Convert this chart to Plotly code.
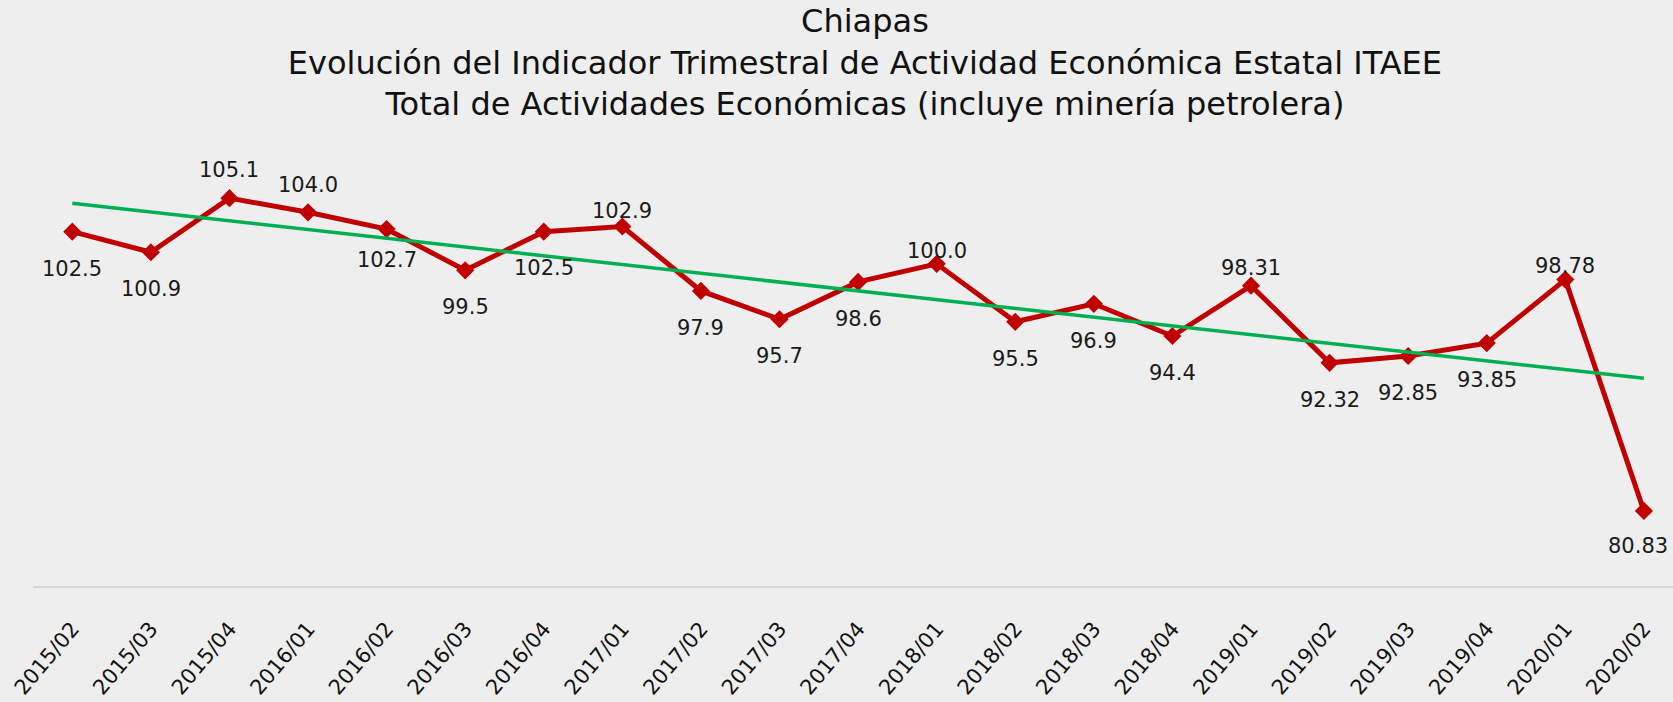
import numpy as np
import plotly.graph_objects as go

# Quarters and ITAEE values (Chiapas)
quarters = ["2015/02", "2015/03", "2015/04", "2016/01", "2016/02", "2016/03", "2016/04",
            "2017/01", "2017/02", "2017/03", "2017/04", "2018/01", "2018/02", "2018/03",
            "2018/04", "2019/01", "2019/02", "2019/03", "2019/04", "2020/01", "2020/02"]
itaee = [102.5, 100.9, 105.1, 104.0, 102.7, 99.5, 102.5, 102.9, 97.9, 95.7, 98.6,
         100.0, 95.5, 96.9, 94.4, 98.31, 92.32, 92.85, 93.85, 98.78, 80.83]
label_text = ["102.5", "100.9", "105.1", "104.0", "102.7", "99.5", "102.5", "102.9",
              "97.9", "95.7", "98.6", "100.0", "95.5", "96.9", "94.4", "98.31",
              "92.32", "92.85", "93.85", "98.78", "80.83"]

# vertical offset of each data label (px, positive = above the point)
label_shift = [-37, -37, 28, 27, -31, -37, -36, 15, -37, -37, -37,
               13, -37, -37, -37, 18, -37, -37, -37, 14, -35]

# linear trendline (as in the original spreadsheet chart)
idx = np.arange(len(itaee))
slope, intercept = np.polyfit(idx, itaee, 1)
trend = slope * idx + intercept

FONT = "DejaVu Sans"
BG = "#eeeeee"

fig = go.Figure()
fig.add_trace(go.Scatter(
    x=quarters, y=itaee, mode="lines+markers",
    line=dict(color="#c00000", width=5),
    marker=dict(symbol="diamond", size=14, color="#c00000"),
    showlegend=False, hoverinfo="x+y",
))
fig.add_trace(go.Scatter(
    x=quarters, y=trend, mode="lines",
    line=dict(color="#00b050", width=3.5),
    showlegend=False, hoverinfo="skip",
))

last = len(quarters) - 1
for i, (q, v, t, dy) in enumerate(zip(quarters, itaee, label_text, label_shift)):
    fig.add_annotation(x=q, y=v, text=t, showarrow=False, yshift=dy,
                       xshift=-6 if i == last else 0,
                       xanchor="center", yanchor="middle",
                       font=dict(family=FONT, size=21, color="#1a1a1a"))

fig.update_layout(
    width=1673, height=702,
    paper_bgcolor=BG, plot_bgcolor=BG,
    margin=dict(l=33, r=0, t=135, b=116, autoexpand=False),
    title=dict(
        text="Chiapas<br>Evolución del Indicador Trimestral de Actividad Económica Estatal ITAEE"
             "<br>Total de Actividades Económicas (incluye minería petrolera)",
        x=0.517, xanchor="center", xref="container",
        y=0.954, yanchor="top",
        font=dict(family=FONT, size=32, color="#111111"),
    ),
    xaxis=dict(
        type="category", range=[-0.5, 20.37],
        showgrid=False, zeroline=False, automargin=False,
        showline=True, linecolor="#d6d6d6", linewidth=2,
        tickangle=-50, ticks="", ticklabelstandoff=20,
        tickfont=dict(family=FONT, size=21, color="#111111"),
    ),
    yaxis=dict(
        range=[75, 110], showgrid=False, zeroline=False, automargin=False,
        showticklabels=False, showline=False,
    ),
)

# page body margin removed so the figure sits flush in the window
fig.write_html("out.html", config={"displayModeBar": False},
               post_script="document.body.style.margin='0';")
